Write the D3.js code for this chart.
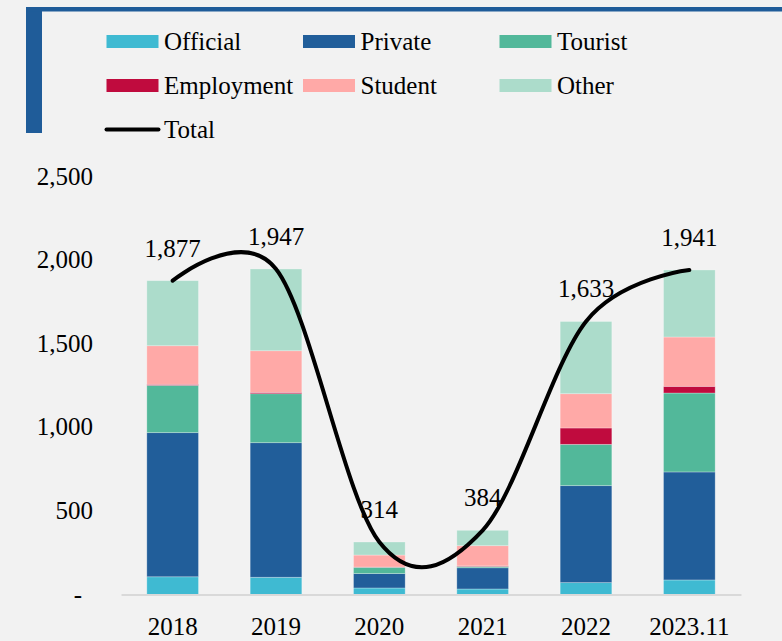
<!DOCTYPE html>
<html>
<head>
  <meta charset="utf-8">
  <title>Visa stacked bars</title>
  <script src="https://d3js.org/d3.v7.min.js"></script>
  <style>
    body { margin: 0; background: #f2f2f2; }
    text { font-family: "Liberation Serif", serif; fill: #000; }
  </style>
</head>
<body>
  <script>
    // data
    var years = ["2018", "2019", "2020", "2021", "2022", "2023.11"];
    var official = [106, 103, 39, 33, 71, 87];
    var privateV = [862, 805, 86, 127, 580, 646];
    var tourist = [283, 293, 38, 8, 247, 472];
    var employment = [6, 8, 1, 3, 98, 40];
    var student = [231, 249, 72, 121, 205, 295];
    var other = [389, 489, 78, 92, 432, 401];
    var totals = [1877, 1947, 314, 384, 1633, 1941];
    var yTicks = [0, 500, 1000, 1500, 2000, 2500];

    var keys = ["Official", "Private", "Tourist", "Employment", "Student", "Other"];
    var colors = ["#3fbad2", "#215e9a", "#52b89a", "#c00b3e", "#ffa9a7", "#acdccb"];
    var seriesArr = [official, privateV, tourist, employment, student, other];

    var width = 782, height = 641;
    var rows = years.map(function (y, i) {
      var r = { year: y };
      keys.forEach(function (k, j) { r[k] = seriesArr[j][i]; });
      return r;
    });

    var svg = d3.select("body").append("svg").attr("width", width).attr("height", height);

    // frame in the top-left corner
    svg.append("rect").attr("x", 26).attr("y", 7).attr("width", 16).attr("height", 126).attr("fill", "#1f5c99");
    svg.append("rect").attr("x", 26).attr("y", 7).attr("width", width - 26).attr("height", 4.5).attr("fill", "#1f5c99");

    // scales
    var x = d3.scaleBand().domain(years).range([121, 741]).paddingInner(0.5).paddingOuter(0.25);
    var y = d3.scaleLinear().domain([0, 2500]).range([594.5, 176.5]);
    var color = d3.scaleOrdinal().domain(keys).range(colors);

    // bars
    var stack = d3.stack().keys(keys)(rows);
    svg.append("g").selectAll("g")
      .data(stack)
      .enter().append("g")
      .attr("fill", function (d) { return color(d.key); })
      .selectAll("rect")
      .data(function (d) { return d; })
      .enter().append("rect")
      .attr("x", function (d) { return x(d.data.year); })
      .attr("y", function (d) { return y(d[1]); })
      .attr("width", x.bandwidth())
      .attr("height", function (d) { return y(d[0]) - y(d[1]); })
      .attr("stroke", "#ffffff")
      .attr("stroke-opacity", 0.35)
      .attr("stroke-width", 0.8);

    // y axis
    var yAxis = svg.append("g")
      .attr("transform", "translate(93,0)")
      .call(d3.axisLeft(y).tickValues(yTicks).tickSize(0).tickPadding(0)
        .tickFormat(function (d) { return d === 0 ? "-" : d3.format(",")(d); }));
    yAxis.select(".domain").remove();
    yAxis.selectAll("text").attr("font-size", 25).attr("font-family", "Liberation Serif").attr("dy", "0.3em");
    yAxis.selectAll("text").filter(function (d) { return d === 0; }).attr("dx", -11);

    // x axis
    var xAxis = svg.append("g")
      .attr("transform", "translate(0," + y(0) + ")")
      .call(d3.axisBottom(x).tickSize(0).tickPadding(0));
    xAxis.select(".domain").attr("stroke", "#d9d9d9").attr("stroke-width", 2);
    xAxis.selectAll("text").attr("font-size", 25).attr("font-family", "Liberation Serif").attr("dy", 0).attr("y", 40);

    // total line
    var line = d3.line()
      .x(function (d, i) { return x(years[i]) + x.bandwidth() / 2; })
      .y(function (d) { return y(d); })
      .curve(d3.curveCardinal.tension(0));
    svg.append("path")
      .datum(totals)
      .attr("d", line)
      .attr("fill", "none")
      .attr("stroke", "#000")
      .attr("stroke-width", 4)
      .attr("stroke-linecap", "round");

    svg.append("g").selectAll("text")
      .data(totals)
      .enter().append("text")
      .attr("x", function (d, i) { return x(years[i]) + x.bandwidth() / 2; })
      .attr("y", function (d) { return y(d) - 24; })
      .attr("text-anchor", "middle")
      .attr("font-size", 25)
      .text(d3.format(","));

    // legend
    var legendItems = keys.map(function (k) { return { name: k, type: "box" }; });
    legendItems.push({ name: "Total", type: "line" });
    var leg = svg.append("g").selectAll("g")
      .data(legendItems)
      .enter().append("g")
      .attr("transform", function (d, i) { return "translate(" + (106.5 + (i % 3) * 196.5) + "," + (35 + Math.floor(i / 3) * 44) + ")"; });
    leg.filter(function (d) { return d.type === "box"; })
      .append("rect")
      .attr("width", 52).attr("height", 13)
      .attr("fill", function (d) { return color(d.name); });
    leg.filter(function (d) { return d.type === "line"; })
      .append("line")
      .attr("x1", 0).attr("x2", 52).attr("y1", 6.5).attr("y2", 6.5)
      .attr("stroke", "#000").attr("stroke-width", 4).attr("stroke-linecap", "round");
    leg.append("text")
      .attr("x", 57.5)
      .attr("y", 14.5)
      .attr("font-size", 25)
      .text(function (d) { return d.name; });
  </script>
</body>
</html>
